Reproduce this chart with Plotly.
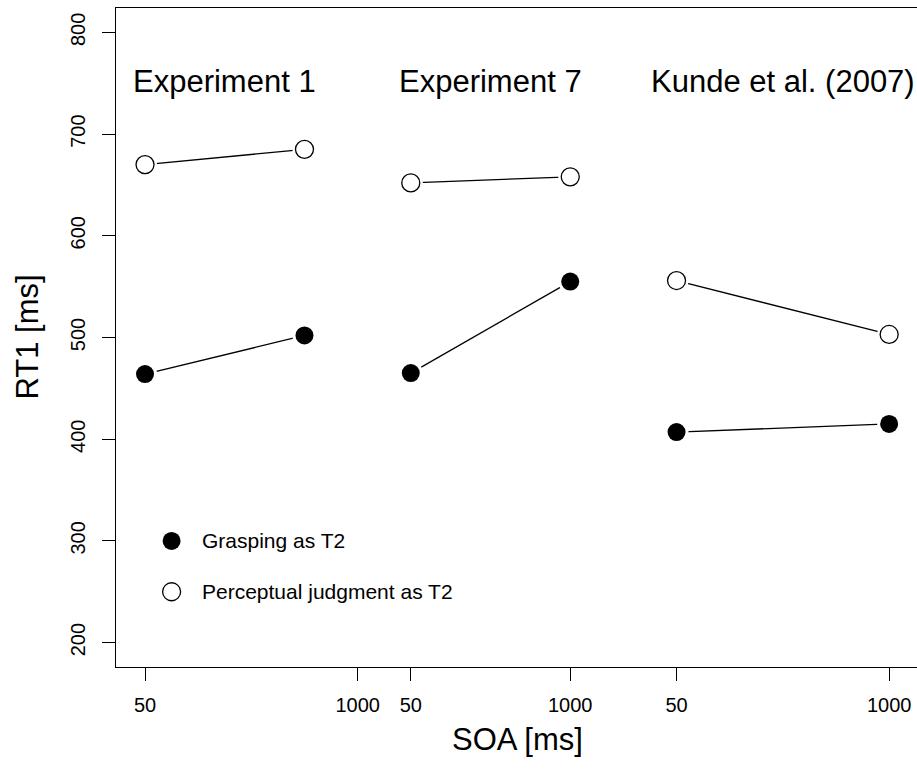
import plotly.graph_objects as go

# Mean RT1 (ms) per study at the two SOA levels
studies = ["Experiment 1", "Experiment 7", "Kunde et al. (2007)"]
soa_labels = ["50", "1000"]
grasping = [[464, 502], [465, 555], [407, 415]]
perceptual = [[670, 685], [652, 658], [556, 503]]

# Horizontal placement of each study's two SOA levels on the shared axis
study_x = [[1.0, 2.5], [3.5, 5.0], [6.0, 8.0]]
tick_x = [1.0, 3.0, 3.5, 5.0, 6.0, 8.0]
tick_text = ["50", "1000", "50", "1000", "50", "1000"]
y_ticks = [200, 300, 400, 500, 600, 700, 800]

legend_labels = ["Grasping as T2", "Perceptual judgment as T2"]

FONT = "Liberation Sans, Arial, Helvetica, sans-serif"
MSIZE = 18
LW = 1.3

fig = go.Figure()


def add_series(xs, ys, filled):
    # connecting line, a white halo to leave a small gap, then the marker
    fig.add_trace(go.Scatter(x=xs, y=ys, mode="lines",
                             line=dict(color="black", width=LW),
                             hoverinfo="skip", showlegend=False))
    fig.add_trace(go.Scatter(x=xs, y=ys, mode="markers",
                             marker=dict(size=MSIZE + 6, color="white",
                                         line=dict(width=0)),
                             hoverinfo="skip", showlegend=False))
    fig.add_trace(go.Scatter(
        x=xs, y=ys, mode="markers",
        marker=dict(size=MSIZE, color="black" if filled else "white",
                    line=dict(color="black", width=0 if filled else LW)),
        showlegend=False))


for i, name in enumerate(studies):
    add_series(study_x[i], perceptual[i], False)
    add_series(study_x[i], grasping[i], True)
    fig.add_annotation(x=sum(study_x[i]) / 2, y=752, text=name,
                       showarrow=False, xanchor="center", yanchor="middle",
                       font=dict(family=FONT, size=31, color="black"))

# Legend drawn inside the plotting region
legend_x = 1.25
legend_text_x = 1.52
legend_y = [300, 250]
for lab, ly, filled in zip(legend_labels, legend_y, [True, False]):
    fig.add_trace(go.Scatter(
        x=[legend_x], y=[ly], mode="markers",
        marker=dict(size=MSIZE, color="black" if filled else "white",
                    line=dict(color="black", width=0 if filled else LW)),
        showlegend=False, hoverinfo="skip"))
    fig.add_annotation(x=legend_text_x, y=ly, text=lab, showarrow=False,
                       xanchor="left", yanchor="middle",
                       font=dict(family=FONT, size=21, color="black"))

# Axis titles
fig.add_annotation(xref="paper", yref="paper", x=0.5013, y=-0.11,
                   text="SOA [ms]", showarrow=False, xanchor="center",
                   yanchor="middle", font=dict(family=FONT, size=31, color="black"))
fig.add_annotation(xref="paper", yref="paper", x=-0.111, y=0.5,
                   text="RT1 [ms]", showarrow=False, textangle=-90,
                   xanchor="center", yanchor="middle",
                   font=dict(family=FONT, size=31, color="black"))

fig.update_layout(
    width=917, height=769,
    margin=dict(l=116, r=0, t=8, b=102),
    paper_bgcolor="white", plot_bgcolor="white",
    showlegend=False,
    font=dict(family=FONT, color="black"),
    xaxis=dict(range=[0.727, 8.262], tickmode="array", tickvals=tick_x,
               ticktext=tick_text, ticks="outside", ticklen=13,
               tickwidth=LW, tickcolor="black", showgrid=False,
               zeroline=False, showline=True, linecolor="black",
               linewidth=LW, mirror=True, ticklabelstandoff=7,
               tickfont=dict(family=FONT, size=20, color="black")),
    yaxis=dict(range=[176, 824], tickmode="array", tickvals=y_ticks,
               ticks="outside", ticklen=13, tickwidth=LW, tickcolor="black",
               showgrid=False, zeroline=False, showline=True,
               linecolor="black", linewidth=LW, tickangle=-90,
               ticklabelstandoff=9,
               tickfont=dict(family=FONT, size=20, color="black")),
)

fig.write_html("out.html")
